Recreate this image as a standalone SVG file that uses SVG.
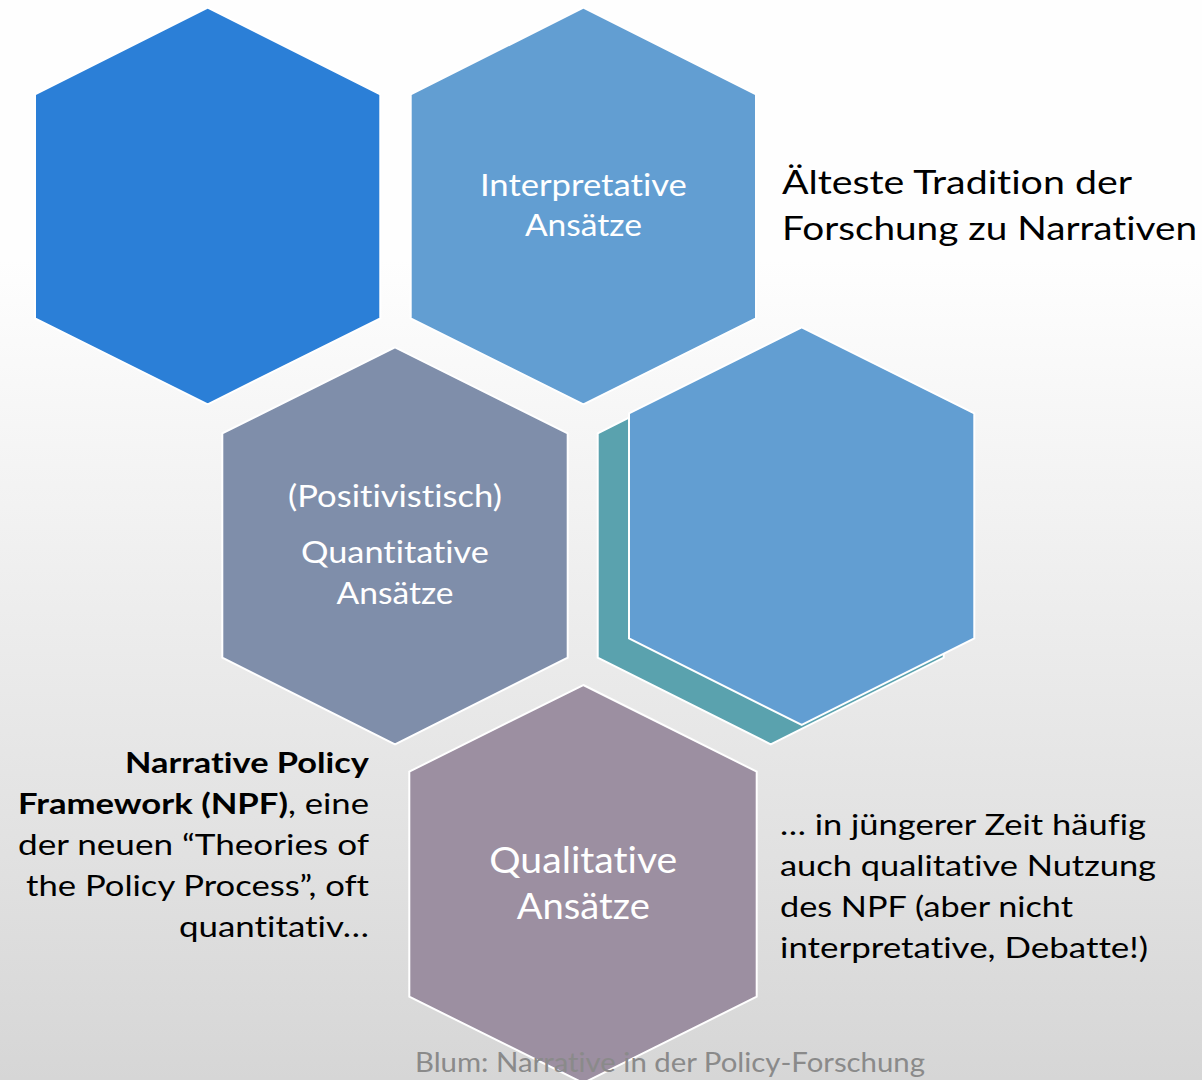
<svg xmlns="http://www.w3.org/2000/svg" width="1202" height="1080" viewBox="0 0 1202 1080">
  <defs>
    <linearGradient id="bg" gradientUnits="userSpaceOnUse" x1="0" y1="260" x2="0" y2="1080">
      <stop offset="0" stop-color="#fefefe"/>
      <stop offset="1" stop-color="#d6d6d6"/>
    </linearGradient>
  </defs>
  <style>
    .hex { stroke: #ffffff; stroke-width: 2; stroke-linejoin: miter; }
    .t { font-family: Lato, "Liberation Sans", Arial, sans-serif; font-variant-ligatures: none; font-feature-settings: "liga" 0, "clig" 0, "dlig" 0; }
    .w { fill: #ffffff; text-anchor: middle; }
    .k { fill: #000000; }
    .b { font-weight: bold; }
    .foot { fill: #8a8a8a; font-size: 27px; text-anchor: middle; }
  </style>
  <rect x="0" y="0" width="1202" height="1080" fill="url(#bg)"/>

  <g id="hex-dark-blue">
    <polygon class="hex" fill="#2b7fd7" points="207.7,7.7 380.3,94.3 380.3,318.3 207.7,404.3 35,318.3 35,94.3"/>
  </g>

  <g id="hex-interpretative">
    <polygon class="hex" fill="#629ed2" points="583.4,7.7 756,94.3 756,318.3 583.4,404.3 410.7,318.3 410.7,94.3"/>
    <text class="t w" font-size="30" x="583.4" y="196" textLength="207" lengthAdjust="spacingAndGlyphs">Interpretative</text>
    <text class="t w" font-size="30" x="583.4" y="236" textLength="117" lengthAdjust="spacingAndGlyphs">Ansätze</text>
  </g>

  <g id="hex-quantitative">
    <polygon class="hex" fill="#7f8eaa" points="395,347.3 567.7,433.3 567.7,657.7 395,744.3 222.3,657.7 222.3,433.3"/>
    <text class="t w" font-size="30" x="395" y="507" textLength="214" lengthAdjust="spacingAndGlyphs">(Positivistisch)</text>
    <text class="t w" font-size="30" x="395" y="563" textLength="188" lengthAdjust="spacingAndGlyphs">Quantitative</text>
    <text class="t w" font-size="30" x="395" y="604" textLength="117" lengthAdjust="spacingAndGlyphs">Ansätze</text>
  </g>

  <g id="hex-blue-shadow">
    <polygon class="hex" fill="#5aa2ae" points="770.7,346.3 943.7,433.3 943.7,657.7 770.7,744.3 597.7,657.7 597.7,433.3"/>
    <polygon class="hex" fill="#629ed2" points="801.7,327.3 974.3,413.3 974.3,638.3 801.7,725 629,638.3 629,413.3"/>
  </g>

  <g id="hex-qualitative">
    <polygon class="hex" fill="#9c8fa1" points="583.3,685 756.7,771.6 756.7,996.7 583.3,1083 409.3,996.7 409.3,771.6"/>
    <text class="t w" font-size="36" x="583.3" y="873" textLength="188" lengthAdjust="spacingAndGlyphs">Qualitative</text>
    <text class="t w" font-size="36" x="583.3" y="919" textLength="133" lengthAdjust="spacingAndGlyphs">Ansätze</text>
  </g>

  <g id="label-tradition">
    <text class="t k" font-size="33.5" x="782" y="194" textLength="350" lengthAdjust="spacingAndGlyphs">Älteste Tradition der</text>
    <text class="t k" font-size="33.5" x="782" y="240" textLength="415" lengthAdjust="spacingAndGlyphs">Forschung zu Narrativen</text>
  </g>

  <g id="label-npf">
    <text class="t k b" font-size="29" x="125" y="773" textLength="244" lengthAdjust="spacingAndGlyphs">Narrative Policy</text>
    <text class="t k" font-size="29" x="18" y="814" textLength="351" lengthAdjust="spacingAndGlyphs"><tspan class="b">Framework (NPF)</tspan>, eine</text>
    <text class="t k" font-size="29" x="18" y="855" textLength="351" lengthAdjust="spacingAndGlyphs">der neuen “Theories of</text>
    <text class="t k" font-size="29" x="26" y="896" textLength="343" lengthAdjust="spacingAndGlyphs">the Policy Process”, oft</text>
    <text class="t k" font-size="29" x="179" y="937" textLength="190" lengthAdjust="spacingAndGlyphs">quantitativ…</text>
  </g>

  <g id="label-qualitative-npf">
    <text class="t k" font-size="29" x="780" y="835" textLength="366" lengthAdjust="spacingAndGlyphs">… in jüngerer Zeit häufig</text>
    <text class="t k" font-size="29" x="780" y="876" textLength="376" lengthAdjust="spacingAndGlyphs">auch qualitative Nutzung</text>
    <text class="t k" font-size="29" x="780" y="917" textLength="293" lengthAdjust="spacingAndGlyphs">des NPF (aber nicht</text>
    <text class="t k" font-size="29" x="780" y="958" textLength="368" lengthAdjust="spacingAndGlyphs">interpretative, Debatte!)</text>
  </g>

  <g id="footer">
    <text class="t foot" x="670" y="1072" textLength="510" lengthAdjust="spacingAndGlyphs">Blum: Narrative in der Policy-Forschung</text>
  </g>
</svg>
